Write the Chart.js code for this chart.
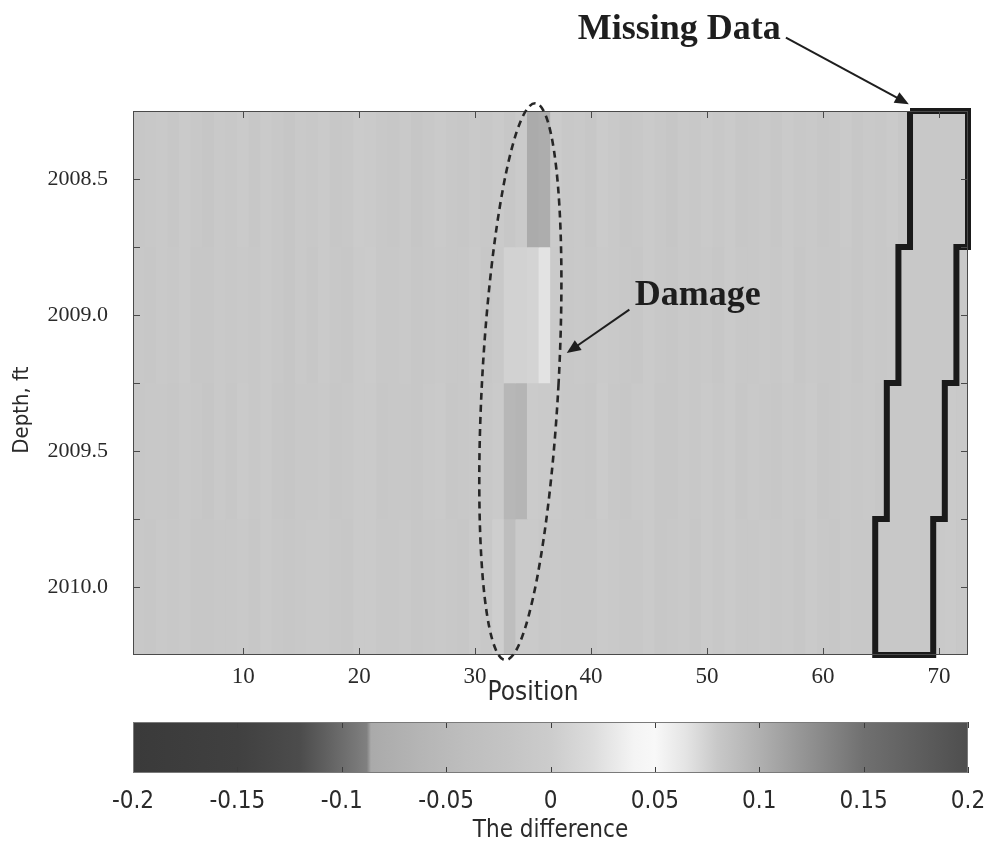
<!DOCTYPE html>
<html lang="en">
<head>
<meta charset="UTF-8">
<title>Difference map - Depth vs Position</title>
<script src="https://cdn.jsdelivr.net/npm/chart.js"></script>
<style>
  body { margin: 0; background: #fff; }
  #wrap { position: relative; width: 990px; height: 845px; }
  #map { position: absolute; left: 0; top: 0; }
  #cbar { position: absolute; left: 0; top: 710px; }
</style>
</head>
<body>
<div id="wrap">
  <canvas id="map" width="990" height="710"></canvas>
  <canvas id="cbar" width="990" height="135"></canvas>
</div>
<script>
// ---- data ----
const depthEdges = [2008.25, 2008.75, 2009.25, 2009.75, 2010.25];

// difference per position (1..72), one row per depth band; null = missing data
const diffRow1 = [
  -0.012,-0.010,-0.008,-0.012,-0.006,-0.010,-0.014,-0.008,-0.010,-0.006,
  -0.012,-0.004,-0.010,-0.016,-0.008,-0.010,-0.006,-0.012,-0.010,-0.002,
  -0.004,-0.010,-0.012,-0.008,-0.014,-0.010,-0.006,-0.010,-0.012,-0.008,
  -0.010,-0.006,-0.012,-0.004, 0.104, 0.102,-0.002,-0.010,-0.008,-0.012,
  -0.002,-0.008,-0.012,-0.010,-0.006,-0.010,-0.014,-0.008,-0.010,-0.006,
  -0.010,-0.004,-0.012,-0.010,-0.008,-0.012,-0.006,-0.010,-0.008,-0.012,
  -0.010,-0.006,-0.012,-0.008,-0.010,-0.006,-0.012, null, null, null,
   null, null
];
const diffRow2 = [
  -0.010,-0.012,-0.008,-0.010,-0.006,-0.012,-0.012,-0.008,-0.010,-0.008,
  -0.010,-0.006,-0.010,-0.014,-0.008,-0.012,-0.006,-0.010,-0.012,-0.004,
  -0.002,-0.010,-0.010,-0.008,-0.012,-0.010,-0.008,-0.010,-0.010,-0.006,
  -0.012,-0.008, 0.008, 0.008, 0.010, 0.026,-0.004,-0.010,-0.008,-0.010,
  -0.004,-0.008,-0.010,-0.012,-0.006,-0.010,-0.012,-0.008,-0.010,-0.008,
  -0.012,-0.004,-0.010,-0.010,-0.008,-0.010,-0.006,-0.012,-0.008,-0.010,
  -0.010,-0.008,-0.012,-0.008,-0.010,-0.008, null, null, null, null,
   null,-0.008
];
const diffRow3 = [
  -0.012,-0.010,-0.010,-0.012,-0.008,-0.010,-0.014,-0.008,-0.012,-0.006,
  -0.010,-0.006,-0.012,-0.014,-0.010,-0.010,-0.008,-0.012,-0.010,-0.004,
  -0.004,-0.012,-0.010,-0.010,-0.012,-0.008,-0.006,-0.012,-0.010,-0.008,
  -0.010,-0.004, 0.094, 0.096,-0.002,-0.006,-0.006,-0.010,-0.010,-0.012,
  -0.002,-0.010,-0.012,-0.008,-0.006,-0.012,-0.012,-0.008,-0.010,-0.006,
  -0.010,-0.006,-0.012,-0.008,-0.010,-0.012,-0.008,-0.010,-0.006,-0.012,
  -0.010,-0.008,-0.010,-0.008,-0.012, null, null, null, null, null,
  -0.006,-0.008
];
const diffRow4 = [
  -0.010,-0.012,-0.008,-0.010,-0.008,-0.012,-0.012,-0.010,-0.010,-0.008,
  -0.012,-0.006,-0.010,-0.012,-0.010,-0.008,-0.008,-0.010,-0.012,-0.004,
  -0.004,-0.010,-0.010,-0.008,-0.012,-0.010,-0.008,-0.010,-0.012,-0.006,
  -0.010, 0.002, 0.088,-0.004,-0.006,-0.010,-0.008,-0.010,-0.010,-0.010,
  -0.004,-0.008,-0.010,-0.010,-0.006,-0.012,-0.010,-0.008,-0.012,-0.006,
  -0.010,-0.006,-0.010,-0.010,-0.008,-0.010,-0.008,-0.012,-0.006,-0.010,
  -0.012,-0.008,-0.010,-0.010, null, null, null, null, null,-0.008,
  -0.006,-0.010
];
const diffRows = [diffRow1, diffRow2, diffRow3, diffRow4];

// missing-data block per depth band (first and last position)
const missingFirst = [68, 67, 66, 65];
const missingLast  = [72, 71, 70, 69];

const xTickVals = [10, 20, 30, 40, 50, 60, 70];
const yTickVals = [2008.5, 2008.75, 2009.0, 2009.25, 2009.5, 2009.75, 2010.0];
const yTickLabels = ['2008.5', '', '2009.0', '', '2009.5', '', '2010.0'];

// grey colour scale (value -> grey level), as in the colour bar
const cbValues = [-0.2, -0.15, -0.12, -0.1, -0.088, -0.086, -0.06, -0.04, -0.02, 0, 0.02, 0.04, 0.05, 0.065, 0.08, 0.1, 0.12, 0.15, 0.2];
const cbGrays  = [58, 64, 76, 108, 128, 170, 182, 190, 196, 204, 220, 244, 248, 228, 200, 176, 150, 112, 78];
const cbTickVals = [-0.2, -0.15, -0.1, -0.05, 0, 0.05, 0.1, 0.15, 0.2];
const cbTickLabels = ['-0.2', '-0.15', '-0.1', '-0.05', '0', '0.05', '0.1', '0.15', '0.2'];

// ---- helpers ----
const serif = "'Liberation Serif', 'Times New Roman', serif";
const narrow = "'Liberation Sans Narrow', 'Arial Narrow', 'DejaVu Sans Condensed', sans-serif";
const textColor = '#2a2a2a';

function grayFor(v) {
  if (v <= cbValues[0]) return cbGrays[0];
  for (let i = 1; i < cbValues.length; i++) {
    if (v <= cbValues[i]) {
      const t = (v - cbValues[i - 1]) / (cbValues[i] - cbValues[i - 1]);
      return Math.round(cbGrays[i - 1] + t * (cbGrays[i] - cbGrays[i - 1]));
    }
  }
  return cbGrays[cbGrays.length - 1];
}
const grayCss = g => `rgb(${g},${g},${g})`;

// ---- heat map datasets: one floating-bar dataset per depth band ----
const datasets = diffRows.map((row, r) => {
  const pts = [], colors = [];
  row.forEach((v, i) => {
    if (v === null) return;
    pts.push({ x: i + 1, y: [depthEdges[r], depthEdges[r + 1]] });
    colors.push(grayCss(grayFor(v)));
  });
  return {
    type: 'bar', data: pts, backgroundColor: colors, borderWidth: 0,
    barPercentage: 1, categoryPercentage: 1, grouped: false, order: 2
  };
});

// outline of the missing block
const outline = [{ x: missingFirst[0] - 0.5, y: depthEdges[0] }];
for (let r = 0; r < missingLast.length; r++) {
  outline.push({ x: missingLast[r] + 0.5, y: depthEdges[r] });
  outline.push({ x: missingLast[r] + 0.5, y: depthEdges[r + 1] });
}
for (let r = missingFirst.length - 1; r >= 0; r--) {
  outline.push({ x: missingFirst[r] - 0.5, y: depthEdges[r + 1] });
  outline.push({ x: missingFirst[r] - 0.5, y: depthEdges[r] });
}
datasets.push({
  type: 'line', data: outline, borderColor: '#1a1a1a', borderWidth: 6,
  pointRadius: 0, fill: false, tension: 0, stepped: 'before',
  borderJoinStyle: 'miter', clip: false, order: 1
});

// annotations in data units
const notes = {
  missing: { text: 'Missing Data', at: [47.6, 2007.95], from: [56.8, 2007.98], to: [67.4, 2008.225] },
  damage: { text: 'Damage', at: [49.2, 2008.93], from: [43.3, 2008.98], to: [37.9, 2009.14] },
  ring: { center: [33.9, 2009.245], rx: 3.3, ry: 1.025, tilt: 0.054 },
  xTitle: { text: 'Position', at: 35, below: 38 },
  yTitle: { text: 'Depth, ft', at: 2009.35, left: 22 }
};

function arrow(ctx, x1, y1, x2, y2) {
  const a = Math.atan2(y2 - y1, x2 - x1), L = 14, W = 6;
  ctx.beginPath(); ctx.moveTo(x1, y1); ctx.lineTo(x2 - L * 0.6 * Math.cos(a), y2 - L * 0.6 * Math.sin(a)); ctx.stroke();
  ctx.beginPath();
  ctx.moveTo(x2, y2);
  ctx.lineTo(x2 - L * Math.cos(a) + W * Math.sin(a), y2 - L * Math.sin(a) - W * Math.cos(a));
  ctx.lineTo(x2 - L * Math.cos(a) - W * Math.sin(a), y2 - L * Math.sin(a) + W * Math.cos(a));
  ctx.closePath(); ctx.fill();
}

const mapFrame = {
  id: 'mapFrame',
  beforeDatasetsDraw(chart) {
    const { ctx, chartArea: a } = chart;
    ctx.save();
    ctx.fillStyle = grayCss(grayFor(-0.01));
    ctx.fillRect(a.left, a.top, a.width, a.height);
    ctx.restore();
  },
  afterDatasetsDraw(chart) {
    const { ctx, chartArea: a, scales: { x, y } } = chart;
    ctx.save();
    ctx.strokeStyle = '#4a4a4a';
    ctx.lineWidth = 1;
    ctx.beginPath();
    x.ticks.forEach(t => {
      const px = Math.round(x.getPixelForValue(t.value)) + 0.5;
      ctx.moveTo(px, a.bottom); ctx.lineTo(px, a.bottom - 7);
      ctx.moveTo(px, a.top); ctx.lineTo(px, a.top + 7);
    });
    y.ticks.forEach(t => {
      const py = Math.round(y.getPixelForValue(t.value)) + 0.5;
      ctx.moveTo(a.left, py); ctx.lineTo(a.left + 7, py);
      ctx.moveTo(a.right, py); ctx.lineTo(a.right - 7, py);
    });
    ctx.stroke();
    ctx.strokeRect(a.left + 0.5, a.top + 0.5, a.width - 1, a.height - 1);
    ctx.restore();
  },
  afterDraw(chart) {
    const { ctx, chartArea: a, scales: { x, y } } = chart;
    const P = p => [x.getPixelForValue(p[0]), y.getPixelForValue(p[1])];
    ctx.save();
    // dashed ring around the damage
    const ring = notes.ring, c = P(ring.center);
    const rx = Math.abs(x.getPixelForValue(ring.center[0] + ring.rx) - c[0]);
    const ry = Math.abs(y.getPixelForValue(ring.center[1] + ring.ry) - c[1]);
    ctx.strokeStyle = '#262626';
    ctx.lineWidth = 2.6;
    ctx.setLineDash([7, 5]);
    ctx.beginPath();
    ctx.ellipse(c[0], c[1], rx, ry, ring.tilt, 0, Math.PI * 2);
    ctx.stroke();
    ctx.setLineDash([]);
    // labels and arrows
    ctx.fillStyle = '#1e1e1e';
    ctx.strokeStyle = '#1e1e1e';
    ctx.lineWidth = 2;
    ctx.font = `bold 36px ${serif}`;
    ctx.textAlign = 'center';
    ctx.textBaseline = 'middle';
    [notes.missing, notes.damage].forEach(n => {
      const t = P(n.at);
      ctx.fillText(n.text, t[0], t[1]);
      const f = P(n.from), e = P(n.to);
      arrow(ctx, f[0], f[1], e[0], e[1]);
    });
    // axis titles
    ctx.fillStyle = textColor;
    ctx.font = `26px ${narrow}`;
    ctx.fillText(notes.xTitle.text, x.getPixelForValue(notes.xTitle.at), a.bottom + notes.xTitle.below);
    ctx.font = `22px ${narrow}`;
    ctx.translate(notes.yTitle.left, y.getPixelForValue(notes.yTitle.at));
    ctx.rotate(-Math.PI / 2);
    ctx.fillText(notes.yTitle.text, 0, 0);
    ctx.restore();
  }
};

new Chart(document.getElementById('map'), {
  type: 'bar',
  data: { datasets },
  options: {
    responsive: false,
    animation: false,
    events: [],
    layout: { padding: { top: 111, right: 22, left: 0, bottom: 0 } },
    plugins: { legend: { display: false }, tooltip: { enabled: false } },
    scales: {
      x: {
        type: 'linear', min: 0.5, max: 72.5, offset: false,
        afterBuildTicks: s => { s.ticks = xTickVals.map(v => ({ value: v })); },
        afterFit: s => { s.height = 55; s.paddingLeft = 0; s.paddingRight = 0; },
        grid: { display: false, drawTicks: false },
        border: { display: false },
        ticks: { font: { family: serif, size: 23 }, color: textColor, padding: 8, maxRotation: 0 }
      },
      y: {
        type: 'linear', reverse: true, min: depthEdges[0], max: depthEdges[depthEdges.length - 1],
        afterBuildTicks: s => { s.ticks = yTickVals.map(v => ({ value: v })); },
        afterFit: s => { s.width = 133; s.paddingTop = 0; s.paddingBottom = 0; },
        grid: { display: false, drawTicks: false },
        border: { display: false },
        ticks: { font: { family: serif, size: 22 }, color: textColor, padding: 25,
                 callback: (v, i) => yTickLabels[i] }
      }
    }
  },
  plugins: [mapFrame]
});

// ---- colour bar ----
const cbFrame = {
  id: 'cbFrame',
  afterDatasetsDraw(chart) {
    const { ctx, chartArea: a, scales: { x } } = chart;
    ctx.save();
    ctx.strokeStyle = '#3c3c3c';
    ctx.lineWidth = 1;
    ctx.beginPath();
    x.ticks.forEach(t => {
      const px = Math.round(x.getPixelForValue(t.value)) + 0.5;
      ctx.moveTo(px, a.top); ctx.lineTo(px, a.top + 6);
      ctx.moveTo(px, a.bottom); ctx.lineTo(px, a.bottom - 6);
    });
    ctx.stroke();
    ctx.strokeStyle = '#7a7a7a';
    ctx.strokeRect(a.left + 0.5, a.top + 0.5, a.width - 1, a.height - 1);
    ctx.restore();
  }
};

new Chart(document.getElementById('cbar'), {
  type: 'bar',
  data: {
    labels: [''],
    datasets: [{
      data: [[cbValues[0], cbValues[cbValues.length - 1]]],
      borderWidth: 0, barPercentage: 1, categoryPercentage: 1,
      backgroundColor: c => {
        const chart = c.chart;
        if (!chart.chartArea) return '#999';
        const xs = chart.scales.x;
        const lo = cbValues[0], hi = cbValues[cbValues.length - 1];
        const g = chart.ctx.createLinearGradient(xs.getPixelForValue(lo), 0, xs.getPixelForValue(hi), 0);
        cbValues.forEach((v, i) => g.addColorStop((v - lo) / (hi - lo), grayCss(cbGrays[i])));
        return g;
      }
    }]
  },
  options: {
    indexAxis: 'y',
    responsive: false,
    animation: false,
    events: [],
    layout: { padding: { top: 12, right: 22, left: 133, bottom: 0 } },
    plugins: { legend: { display: false }, tooltip: { enabled: false } },
    scales: {
      x: {
        type: 'linear', min: cbValues[0], max: cbValues[cbValues.length - 1],
        afterBuildTicks: s => { s.ticks = cbTickVals.map(v => ({ value: v })); },
        afterFit: s => { s.height = 72; s.paddingLeft = 0; s.paddingRight = 0; },
        grid: { display: false, drawTicks: false },
        border: { display: false },
        ticks: { font: { family: narrow, size: 24 }, color: textColor, padding: 14, maxRotation: 0,
                 callback: (v, i) => cbTickLabels[i] },
        title: { display: true, text: 'The difference', color: textColor,
                 font: { family: narrow, size: 24, lineHeight: 1 }, padding: { top: 0, bottom: 2 } }
      },
      y: { display: false }
    }
  },
  plugins: [cbFrame]
});
</script>
</body>
</html>
